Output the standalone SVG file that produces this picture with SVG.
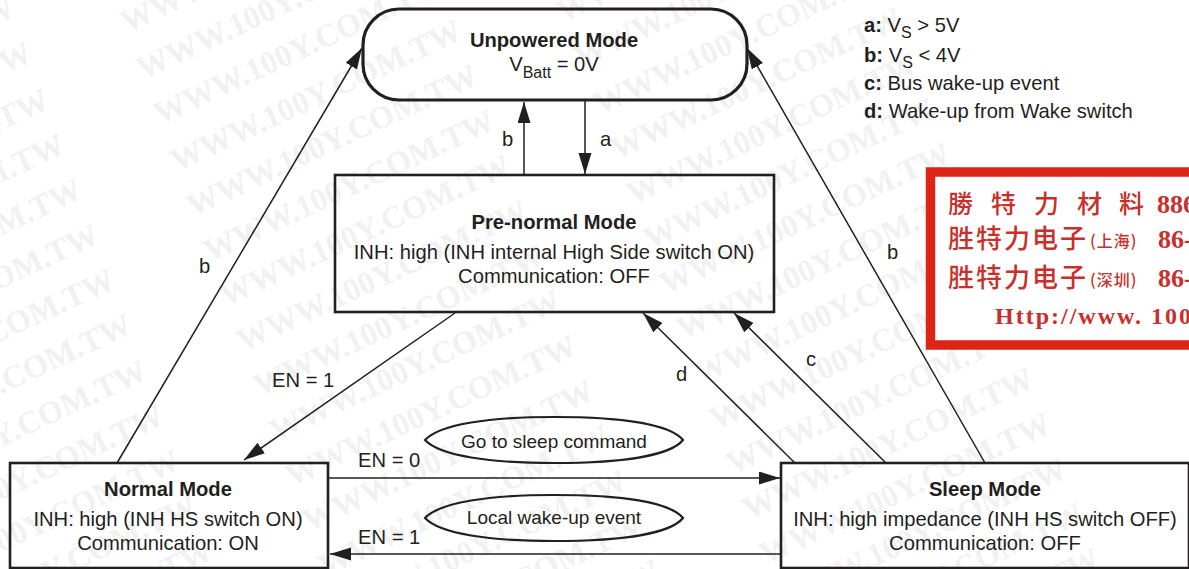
<svg xmlns="http://www.w3.org/2000/svg" width="1189" height="569" viewBox="0 0 1189 569">
<style>
text{font-family:"Liberation Sans",Arial,sans-serif;font-size:20.2px;fill:#231f20}
.c{text-anchor:middle}
.h{font-weight:bold}
.e{font-size:19px}
.wm{font-family:"Liberation Serif","Times New Roman",serif;font-size:32px;font-weight:bold;fill:#f2f1f1}
.box{fill:none;stroke:#231f20;stroke-width:2.6}
.rnd{stroke-width:3.2}
.ov{fill:none;stroke:#231f20;stroke-width:2.2}
#connectors line{stroke:#231f20;stroke-width:1.5;fill:none}
.a{marker-end:url(#arr)}
#stamp text{fill:#c8302c}
#stamp .st{font-family:"Noto Sans CJK TC","Noto Sans CJK SC",serif;font-size:26px;font-weight:500}
#stamp .sm{font-family:"Noto Sans CJK SC",serif;font-size:16px;font-weight:500}
#stamp .ss{font-family:"Liberation Serif","Times New Roman",serif;font-weight:bold;font-size:26px}
</style>
<defs>
<marker id="arr" markerUnits="userSpaceOnUse" markerWidth="22" markerHeight="14" refX="21" refY="6.5" orient="auto"><path d="M0 0L21 6.5L0 13Z" fill="#231f20"/></marker>
</defs>
<rect width="1189" height="569" fill="#fff"/>
<g id="watermark">
<text class="wm" transform="translate(-270,149) rotate(-25)">WWW.100Y.COM.TW</text>
<text class="wm" transform="translate(-253,194) rotate(-25)">WWW.100Y.COM.TW</text>
<text class="wm" transform="translate(-236,241) rotate(-25)">WWW.100Y.COM.TW</text>
<text class="wm" transform="translate(-220,286) rotate(-25)">WWW.100Y.COM.TW</text>
<text class="wm" transform="translate(-203,331) rotate(-25)">WWW.100Y.COM.TW</text>
<text class="wm" transform="translate(-186,376) rotate(-25)">WWW.100Y.COM.TW</text>
<text class="wm" transform="translate(-170,421) rotate(-25)">WWW.100Y.COM.TW</text>
<text class="wm" transform="translate(-153,466) rotate(-25)">WWW.100Y.COM.TW</text>
<text class="wm" transform="translate(-138,512) rotate(-25)">WWW.100Y.COM.TW</text>
<text class="wm" transform="translate(-121,557) rotate(-25)">WWW.100Y.COM.TW</text>
<text class="wm" transform="translate(-105,602) rotate(-25)">WWW.100Y.COM.TW</text>
<text class="wm" transform="translate(-88,647) rotate(-25)">WWW.100Y.COM.TW</text>
<text class="wm" transform="translate(-72,692) rotate(-25)">WWW.100Y.COM.TW</text>
<text class="wm" transform="translate(127,33) rotate(-25)">WWW.100Y.COM.TW</text>
<text class="wm" transform="translate(143,80) rotate(-25)">WWW.100Y.COM.TW</text>
<text class="wm" transform="translate(160,125) rotate(-25)">WWW.100Y.COM.TW</text>
<text class="wm" transform="translate(177,172) rotate(-25)">WWW.100Y.COM.TW</text>
<text class="wm" transform="translate(193,217) rotate(-25)">WWW.100Y.COM.TW</text>
<text class="wm" transform="translate(210,262) rotate(-25)">WWW.100Y.COM.TW</text>
<text class="wm" transform="translate(226,307) rotate(-25)">WWW.100Y.COM.TW</text>
<text class="wm" transform="translate(243,352) rotate(-25)">WWW.100Y.COM.TW</text>
<text class="wm" transform="translate(260,397) rotate(-25)">WWW.100Y.COM.TW</text>
<text class="wm" transform="translate(276,442) rotate(-25)">WWW.100Y.COM.TW</text>
<text class="wm" transform="translate(292,487) rotate(-25)">WWW.100Y.COM.TW</text>
<text class="wm" transform="translate(309,532) rotate(-25)">WWW.100Y.COM.TW</text>
<text class="wm" transform="translate(325,577) rotate(-25)">WWW.100Y.COM.TW</text>
<text class="wm" transform="translate(342,622) rotate(-25)">WWW.100Y.COM.TW</text>
<text class="wm" transform="translate(358,667) rotate(-25)">WWW.100Y.COM.TW</text>
<text class="wm" transform="translate(375,712) rotate(-25)">WWW.100Y.COM.TW</text>
<text class="wm" transform="translate(563,23) rotate(-25)">WWW.100Y.COM.TW</text>
<text class="wm" transform="translate(580,68) rotate(-25)">WWW.100Y.COM.TW</text>
<text class="wm" transform="translate(600,115) rotate(-25)">WWW.100Y.COM.TW</text>
<text class="wm" transform="translate(617,160) rotate(-25)">WWW.100Y.COM.TW</text>
<text class="wm" transform="translate(633,205) rotate(-25)">WWW.100Y.COM.TW</text>
<text class="wm" transform="translate(650,250) rotate(-25)">WWW.100Y.COM.TW</text>
<text class="wm" transform="translate(666,295) rotate(-25)">WWW.100Y.COM.TW</text>
<text class="wm" transform="translate(683,340) rotate(-25)">WWW.100Y.COM.TW</text>
<text class="wm" transform="translate(700,385) rotate(-25)">WWW.100Y.COM.TW</text>
<text class="wm" transform="translate(716,430) rotate(-25)">WWW.100Y.COM.TW</text>
<text class="wm" transform="translate(733,475) rotate(-25)">WWW.100Y.COM.TW</text>
<text class="wm" transform="translate(749,520) rotate(-25)">WWW.100Y.COM.TW</text>
<text class="wm" transform="translate(766,565) rotate(-25)">WWW.100Y.COM.TW</text>
<text class="wm" transform="translate(782,610) rotate(-25)">WWW.100Y.COM.TW</text>
<text class="wm" transform="translate(799,655) rotate(-25)">WWW.100Y.COM.TW</text>
<text class="wm" transform="translate(815,700) rotate(-25)">WWW.100Y.COM.TW</text>
</g>
<g id="connectors">
<line class="a" x1="117" y1="463" x2="362" y2="48"/>
<line class="a" x1="985" y1="463" x2="747" y2="48"/>
<line class="a" x1="524" y1="175" x2="524" y2="102"/>
<line class="a" x1="585" y1="100" x2="585" y2="174"/>
<line class="a" x1="455" y1="313" x2="244" y2="460"/>
<line class="a" x1="795" y1="463" x2="643" y2="313"/>
<line class="a" x1="886" y1="463" x2="734" y2="313"/>
<line class="a" x1="329" y1="478" x2="780" y2="478"/>
<line class="a" x1="781" y1="554" x2="330" y2="554"/>
<text x="199" y="273">b</text>
<text x="502" y="146">b</text>
<text x="600" y="146">a</text>
<text x="887" y="259">b</text>
<text x="272" y="387">EN = 1</text>
<text x="676" y="381">d</text>
<text x="806" y="366">c</text>
<text x="358" y="467">EN = 0</text>
<text x="358" y="544">EN = 1</text>
</g>
<g id="node-unpowered">
<rect class="box rnd" x="363" y="9" width="384" height="91" rx="36"/>
<text class="c h" x="554" y="47">Unpowered Mode</text>
<text class="c" x="554" y="71">V<tspan dy="7" style="font-size:16px">Batt</tspan><tspan dy="-7"> = 0V</tspan></text>
</g>
<g id="node-prenormal">
<rect class="box" x="335" y="175" width="439" height="137"/>
<text class="c h" x="554" y="229">Pre-normal Mode</text>
<text class="c" x="554" y="259">INH: high (INH internal High Side switch ON)</text>
<text class="c" x="554" y="283">Communication: OFF</text>
</g>
<g id="node-normal">
<rect class="box" x="10" y="463" width="318" height="105"/>
<text class="c h" x="168" y="496">Normal Mode</text>
<text class="c" x="168" y="526">INH: high (INH HS switch ON)</text>
<text class="c" x="168" y="550">Communication: ON</text>
</g>
<g id="node-sleep">
<rect class="box" x="781" y="463" width="408" height="105"/>
<text class="c h" x="985" y="496">Sleep Mode</text>
<text class="c" x="985" y="526">INH: high impedance (INH HS switch OFF)</text>
<text class="c" x="985" y="550">Communication: OFF</text>
</g>
<g id="node-gotosleep">
<path class="ov" d="M425 440C440 424 490 417 554 417C620 417 670 424 683 440C670 456 620 463 554 463C490 463 440 456 425 440Z"/>
<text class="c e" x="554" y="448">Go to sleep command</text>
</g>
<g id="node-localwake">
<path class="ov" d="M425 518C440 502 490 495 554 495C620 495 670 502 683 518C670 534 620 541 554 541C490 541 440 534 425 518Z"/>
<text class="c e" x="554" y="524">Local wake-up event</text>
</g>
<g id="legend">
<text x="864" y="32"><tspan class="h">a:</tspan> V<tspan dy="6" style="font-size:16px">S</tspan><tspan dy="-6"> &gt; 5V</tspan></text>
<text x="864" y="62"><tspan class="h">b:</tspan> V<tspan dy="6" style="font-size:16px">S</tspan><tspan dy="-6"> &lt; 4V</tspan></text>
<text x="864" y="90"><tspan class="h">c:</tspan> Bus wake-up event</text>
<text x="864" y="118"><tspan class="h">d:</tspan> Wake-up from Wake switch</text>
</g>
<g id="stamp">
<rect x="930.500" y="172" width="270" height="173" fill="#fff" stroke="#dc2417" stroke-width="9.500"/>
<text class="st" x="948 991 1034 1077 1119" y="213" style="font-size:25px">勝特力材料</text>
<text class="ss" x="1157" y="213">886</text>
<text class="st" x="948 976 1004 1032 1060" y="248">胜特力电子</text>
<text class="sm" x="1090" y="247" letter-spacing="1">(上海)</text>
<text class="ss" x="1158" y="248">86-</text>
<text class="st" x="948 976 1004 1032 1060" y="287">胜特力电子</text>
<text class="sm" x="1090" y="286" letter-spacing="1">(深圳)</text>
<text class="ss" x="1158" y="287">86-</text>
<text class="ss" x="995" y="324" letter-spacing="2" style="font-size:24px">Http://www. 100</text>
</g>
</svg>
